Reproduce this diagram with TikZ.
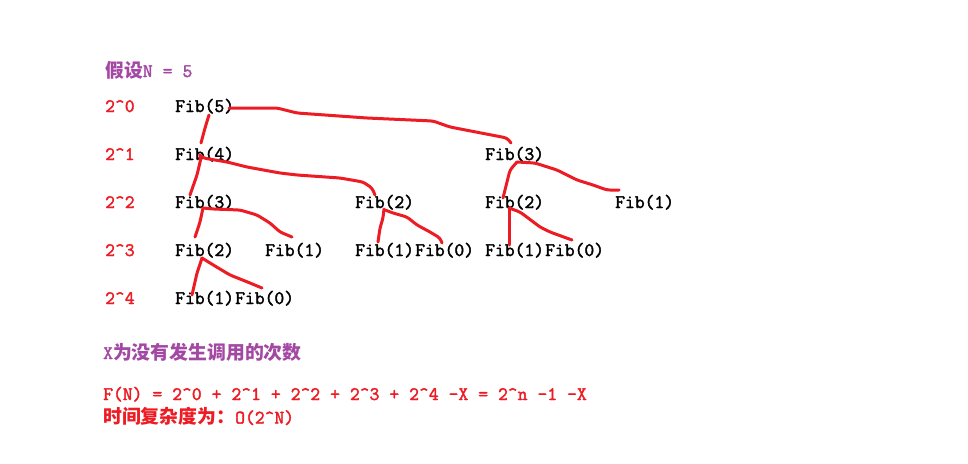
\documentclass[tikz,border=0pt]{standalone}
\usepackage{fontspec}
\newfontfamily\fibmono{Latin Modern Mono}[FakeBold=2]
\newfontfamily\cjk{Noto Sans CJK SC}[Scale=0.99]
\newcommand\fibfont{\fontsize{19.05}{23}\selectfont\fibmono
  \fontdimen2\font=10pt\fontdimen3\font=0pt\fontdimen4\font=0pt\relax}
\definecolor{paintred}{RGB}{237,28,36}
\definecolor{paintpurple}{RGB}{163,73,164}

\begin{document}
\begin{tikzpicture}[x=1pt, y=-1pt,
  txt/.style={anchor=base west, inner sep=0, font=\fibfont},
  fib/.style={txt, text=black},
  lvl/.style={txt, text=paintred},
  note/.style={txt, text=paintpurple},
  hand/.style={draw=paintred, line width=3pt, line cap=round, line join=round, rounded corners=3pt}]

  \fill[white] (0,0) rectangle (968,463);
  \useasboundingbox (0,0) rectangle (968,463);

  \node[note] (N) at (105,77) {{\cjk\bfseries 假设}N = 5};

  \node[lvl] (L0) at (105,112) {2\textasciicircum0};
  \node[lvl] (L1) at (105,160) {2\textasciicircum1};
  \node[lvl] (L2) at (105,208) {2\textasciicircum2};
  \node[lvl] (L3) at (105,256) {2\textasciicircum3};
  \node[lvl] (L4) at (105,304) {2\textasciicircum4};

  \node[fib] (f5) at (175,112) {Fib(5)};

  \node[fib] (f4) at (175,160) {Fib(4)};
  \node[fib] (f3r) at (485,160) {Fib(3)};

  \node[fib] (f3) at (175,208) {Fib(3)};
  \node[fib] (f2m) at (355,208) {Fib(2)};
  \node[fib] (f2r) at (485,208) {Fib(2)};
  \node[fib] (f1r) at (615,208) {Fib(1)};

  \node[fib] (f2) at (175,256) {Fib(2)};
  \node[fib] (f1a) at (265,256) {Fib(1)};
  \node[fib] (f1m) at (355,256) {Fib(1)};
  \node[fib] (f0m) at (415,256) {Fib(0)};
  \node[fib] (f1s) at (485,256) {Fib(1)};
  \node[fib] (f0s) at (545,256) {Fib(0)};

  \node[fib] (f1) at (175,304) {Fib(1)};
  \node[fib] (f0) at (235,304) {Fib(0)};

  \node[note] (X) at (103,359) {X{\cjk\bfseries 为没有发生调用的次数}};
  \node[lvl] (F) at (103,400) {F(N) = 2\textasciicircum0 + 2\textasciicircum1 + 2\textasciicircum2 + 2\textasciicircum3 + 2\textasciicircum4 -X = 2\textasciicircum n -1 -X};
  \node[lvl] (T) at (103,423.5) {{\cjk\bfseries 时间复杂度为：}O(2\textasciicircum N)};

  % calls of Fib(5)
  \draw[hand] ([shift={(34,3)}]f5.base west) -- (205,128) -- ([shift={(26,-17)}]f4.base west);
  \draw[hand] ([shift={(54,-4)}]f5.base west) -- (277,108) -- (297,113) -- (367,118) -- (433,121)
    -- (450,127) -- (507,138) -- ([shift={(26,-17)}]f3r.base west);

  % calls of Fib(4)
  \draw[hand] ([shift={(25,-5)}]f4.base west) -- (201,158) -- (197,175) -- ([shift={(15,-13)}]f3.base west);
  \draw[hand] ([shift={(25,-5)}]f4.base west) -- (203,158) -- (227,162) -- (247,167) -- (280,173)
    -- (297,175) -- (340,178) -- (363,182) -- (372,188) -- ([shift={(20,-13)}]f2m.base west);

  % calls of Fib(3), right
  \draw[hand] ([shift={(32,2)}]f3r.base west) -- (510,170) -- ([shift={(18,-10)}]f2r.base west);
  \draw[hand] ([shift={(32,2)}]f3r.base west) -- (535,163) -- (557,170) -- (577,180) -- (593,185)
    -- (607,190) -- ([shift={(4,-18)}]f1r.base west);

  % calls of Fib(3), left
  \draw[hand] ([shift={(28,0)}]f3.base west) -- (200,222) -- ([shift={(20,-19)}]f2.base west);
  \draw[hand] ([shift={(28,0)}]f3.base west) -- (213,209) -- (240,210) -- (257,215) -- (270,223)
    -- (280,232) -- ([shift={(27,-19)}]f1a.base west);

  % calls of the Fib(2)s
  \draw[hand] ([shift={(29,1)}]f2m.base west) -- (383,218) -- (380,228) -- ([shift={(23,-14)}]f1m.base west);
  \draw[hand] ([shift={(30,2)}]f2m.base west) -- (393,213) -- (407,217) -- (417,225) -- (430,232)
    -- (440,238) -- ([shift={(27,-13)}]f0m.base west);

  \draw[hand] ([shift={(24,0)}]f2r.base west) -- ([shift={(24,-11)}]f1s.base west);
  \draw[hand] ([shift={(24,0)}]f2r.base west) -- (520,212) -- (540,227) -- (550,232)
    -- ([shift={(27,-16)}]f0s.base west);

  \draw[hand] ([shift={(27,2)}]f2.base west) -- (197,273) -- ([shift={(17,-9)}]f1.base west);
  \draw[hand] ([shift={(27,2)}]f2.base west) -- (210,263) -- (230,275) -- (250,283)
    -- ([shift={(27,-16)}]f0.base west);

\end{tikzpicture}
\end{document}
